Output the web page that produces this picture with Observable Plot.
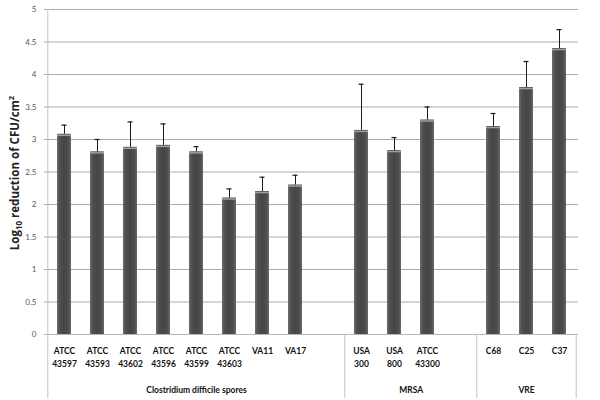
<!DOCTYPE html>
<html>
<head>
<meta charset="utf-8">
<script src="https://cdn.jsdelivr.net/npm/d3@7"></script>
<script src="https://cdn.jsdelivr.net/npm/@observablehq/plot@0.6"></script>
<style>
  html, body { margin: 0; padding: 0; background: #fff; }
  svg { display: block; }
</style>
</head>
<body>
<div id="chart"></div>
<script>
// ---- data ----
const slots = ["ATCC 43597","ATCC 43593","ATCC 43602","ATCC 43596","ATCC 43599","ATCC 43603","VA11","VA17","gap1",
               "USA 300","USA 800","ATCC 43300","gap2",
               "C68","C25","C37"];
const slotLabels = ["ATCC\n43597","ATCC\n43593","ATCC\n43602","ATCC\n43596","ATCC\n43599","ATCC\n43603","VA11","VA17","",
                    "USA\n300","USA\n800","ATCC\n43300","",
                    "C68","C25","C37"];
const strains = ["ATCC 43597","ATCC 43593","ATCC 43602","ATCC 43596","ATCC 43599","ATCC 43603","VA11","VA17",
                 "USA 300","USA 800","ATCC 43300",
                 "C68","C25","C37"];
const logReduction = [3.08,2.81,2.88,2.91,2.81,2.10,2.20,2.30, 3.14,2.83,3.30, 3.20,3.80,4.40];
const errorSD      = [0.14,0.19,0.39,0.33,0.08,0.14,0.22,0.15, 0.71,0.20,0.20, 0.20,0.40,0.29];
const groupNames   = ["Clostridium difficile spores","MRSA","VRE"];
const groupCenter  = ["ATCC 43599","USA 800","C25"];   // slot under each group label
const groupShift   = [0, 0.5, 0];                        // in slot steps
const separatorAt  = ["ATCC 43597","USA 300","C68"];    // left edges of groups
const yTicks = [0,0.5,1,1.5,2,2.5,3,3.5,4,4.5,5];
const yTitle = "Log\u2081\u2080 reduction of CFU/cm\u00b2";
const yTitleParts = [["Log", null], ["10", "sub"], [" reduction of CFU/cm", null], ["2", "super"]];

const data = strains.map((s, i) => ({strain: s, value: logReduction[i], top: logReduction[i] + errorSD[i]}));
const labelOf = new Map(slots.map((s, i) => [s, slotLabels[i]]));

const W = 600, H = 400, mL = 44, mR = 22, mT = 9, mB = 66;
const step = (W - mL - mR) / slots.length;

const chart = Plot.plot({
  width: W, height: H,
  marginLeft: mL, marginRight: mR, marginTop: mT, marginBottom: mB,
  style: {fontFamily: "Lato, 'Open Sans', sans-serif", background: "#fff", color: "#000"},
  x: {domain: slots, paddingInner: 0.58, paddingOuter: 0.29, label: null},
  y: {domain: [0, 5], label: null},
  marks: [
    Plot.gridY(yTicks, {stroke: "#ababab", strokeOpacity: 1}),
    Plot.ruleY([0], {stroke: "#b8b8b8"}),
    Plot.axisY({ticks: yTicks, tickSize: 0, tickPadding: 8, fontSize: 8, fill: "#555", tickFormat: d => String(d), label: null}),
    Plot.axisX({tickSize: 0, tickPadding: 11, fontSize: 8.5, fontWeight: "bold", lineHeight: 1.45, fill: "#111",
                tickFormat: d => labelOf.get(d), label: null}),
    // group separators
    Plot.ruleX([separatorAt[0]], {dx: -step / 2, stroke: "#c4c4c4", insetBottom: -64}),
    Plot.ruleX(separatorAt.slice(1), {dx: -step / 2, stroke: "#c4c4c4", insetTop: H - mT - mB, insetBottom: -64}),
    Plot.ruleX([slots[slots.length - 1]], {dx: step / 2, stroke: "#c4c4c4", insetTop: H - mT - mB, insetBottom: -64}),
    // bars
    Plot.barY(data, {x: "strain", y: "value", fill: "url(#barGrad)"}),
    Plot.tickY(data, {x: "strain", y: "value", stroke: "#a0a0a0", strokeWidth: 1.5, dy: 1}),
    // error bars (upper only)
    Plot.ruleX(data, {x: "strain", y1: "value", y2: "top", stroke: "#1a1a1a", strokeWidth: 1}),
    Plot.tickY(data, {x: "strain", y: "top", stroke: "#1a1a1a", strokeWidth: 1.2, insetLeft: 4.5, insetRight: 4.5}),
    // group labels
    Plot.text(groupNames, {x: (d, i) => groupCenter[i], frameAnchor: "bottom", dy: 58, fontSize: 8.5, fontWeight: "bold", fill: "#111"}),
    // y title
    Plot.text([yTitle], {frameAnchor: "left", textAnchor: "middle", rotate: -90,
              fontSize: 11.5, fontWeight: "bold", fill: "#222", fontFamily: "'Open Sans', sans-serif"})
  ]
});

const svg = chart.tagName.toLowerCase() === "svg" ? chart : chart.querySelector("svg");
document.getElementById("chart").appendChild(chart);

const defs = d3.select(svg).insert("defs", ":first-child");
const g = defs.append("linearGradient").attr("id", "barGrad").attr("x1", "0").attr("x2", "1").attr("y1", "0").attr("y2", "0");
[[0, "#6e6e6e"], [0.18, "#505050"], [0.5, "#454545"], [0.82, "#4e4e4e"], [1, "#6a6a6a"]]
  .forEach(([o, c]) => g.append("stop").attr("offset", o).attr("stop-color", c));

Array.from(svg.querySelectorAll("text")).forEach(t => {
  const i = groupNames.indexOf(t.textContent);
  if (i >= 0 && groupShift[i]) {
    const tr = t.getAttribute("transform") || "";
    t.setAttribute("transform", tr + ` translate(${groupShift[i] * step},0)`);
  }
  if (t.textContent === yTitle) {
    t.setAttribute("transform", `translate(${mL - 26},${(mT + H - mB) / 2 + 1}) rotate(-90)`);
    t.removeAttribute("x"); t.removeAttribute("y");
    const sel = d3.select(t).text(null);
    yTitleParts.forEach(([s, shift]) => {
      const ts = sel.append("tspan").text(s);
      if (shift === "sub") ts.attr("font-size", 8).attr("dy", 3);
      if (shift === "super") ts.attr("font-size", 7.5).attr("dy", -5);
      if (s.startsWith(" ")) ts.attr("dy", -3);
    });
  }
});
</script>
</body>
</html>
